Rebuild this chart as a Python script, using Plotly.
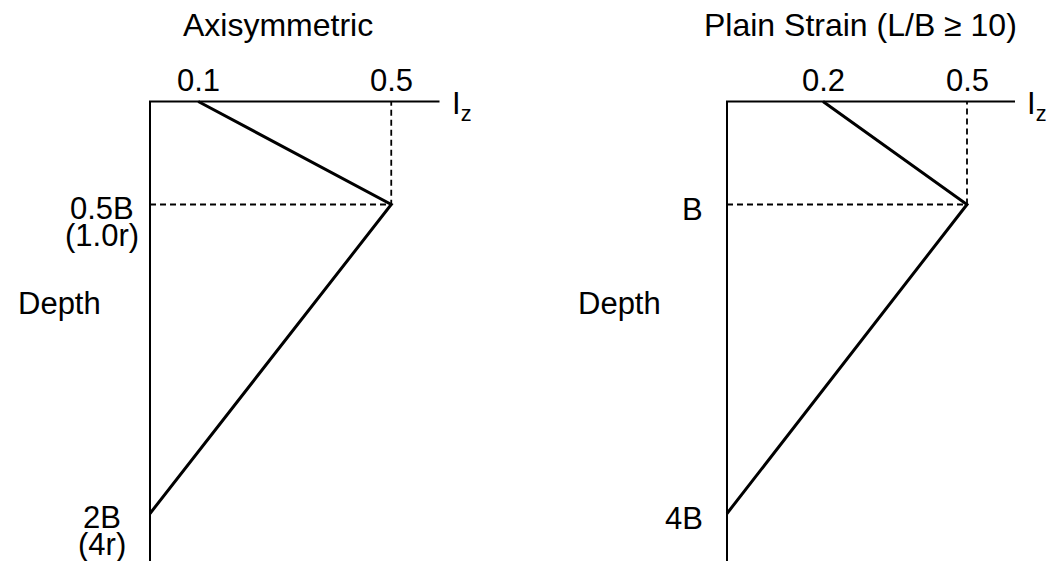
import plotly.graph_objects as go
from plotly.subplots import make_subplots

# ---- data ----
left_iz = [0.1, 0.5, 0.0]
left_depth = [0.0, 0.5, 2.0]          # depth in units of B
right_iz = [0.2, 0.5, 0.0]
right_depth = [0.0, 1.0, 4.0]

left_peak_iz = 0.5
left_peak_depth = 0.5
right_peak_iz = 0.5
right_peak_depth = 1.0

left_xticks = [0.1, 0.5]
left_xtick_labels = ["0.1", "0.5"]
right_xticks = [0.2, 0.5]
right_xtick_labels = ["0.2", "0.5"]

left_depth_ticks = [0.5, 2.0]
left_depth_labels = ["0.5B", "2B"]
left_depth_sublabels = ["(1.0r)", "(4r)"]
right_depth_ticks = [1.0, 4.0]
right_depth_labels = ["B", "4B"]

iz_axis_end = 0.6
titles = ["Axisymmetric", "Plain Strain (L/B \u2265 10)"]

# ---- layout geometry ----
W, H = 1055, 561
FONT = "Liberation Sans, Arial, Helvetica, sans-serif"
FS = 31

lx0, lsx = 150.0, 482.5
rx0, rsx = 727.0, 480.0
y0 = 101.5
lsy = 206.0   # px per B (left)
rsy = 103.0   # px per B (right)

lxr = [(0 - lx0) / lsx, (W / 2 - lx0) / lsx]
rxr = [(W / 2 - rx0) / rsx, (W - rx0) / rsx]
lyr = [(H - y0) / lsy, (0 - y0) / lsy]
ryr = [(H - y0) / rsy, (0 - y0) / rsy]

fig = make_subplots(rows=1, cols=2, horizontal_spacing=0)

black = "black"

def panel(col, iz, depth, pk_iz, pk_d, yr):
    fig.add_trace(go.Scatter(x=[0, 0, iz_axis_end], y=[yr[0], 0, 0], mode="lines",
                             line=dict(color=black, width=2), hoverinfo="skip"), row=1, col=col)
    fig.add_trace(go.Scatter(x=[0, pk_iz, pk_iz], y=[pk_d, pk_d, 0], mode="lines",
                             line=dict(color=black, width=1.8, dash="6px,4px"), hoverinfo="skip"),
                  row=1, col=col)
    fig.add_trace(go.Scatter(x=iz, y=depth, mode="lines",
                             line=dict(color=black, width=3), hoverinfo="skip"), row=1, col=col)

panel(1, left_iz, left_depth, left_peak_iz, left_peak_depth, lyr)
panel(2, right_iz, right_depth, right_peak_iz, right_peak_depth, ryr)

fig.update_xaxes(visible=False, showgrid=False, zeroline=False)
fig.update_yaxes(visible=False, showgrid=False, zeroline=False)
fig.update_layout(
    xaxis=dict(domain=[0, 0.5], range=lxr),
    xaxis2=dict(domain=[0.5, 1], range=rxr),
    yaxis=dict(domain=[0, 1], range=lyr),
    yaxis2=dict(domain=[0, 1], range=ryr),
)

font = dict(family=FONT, size=FS, color=black)
tfont = dict(family=FONT, size=32, color=black)
ann = []
for xr, yr_, ticks, labs in (("x", "y", left_xticks, left_xtick_labels),
                             ("x2", "y2", right_xticks, right_xtick_labels)):
    for t, l in zip(ticks, labs):
        ann.append(dict(x=t, y=0, xref=xr, yref=yr_, text=l, showarrow=False,
                        xanchor="center", yanchor="bottom", yshift=2, font=font))
    ann.append(dict(x=iz_axis_end, y=0, xref=xr, yref=yr_, text="I<sub>z</sub>", showarrow=False,
                    xanchor="left", yanchor="middle", xshift=10, yshift=-4, font=font))
for t, l, s in zip(left_depth_ticks, left_depth_labels, left_depth_sublabels):
    ann.append(dict(x=0, y=t, xref="x", yref="y", text=l, showarrow=False,
                    xanchor="center", yanchor="middle", xshift=-48, yshift=-4, font=font))
    ann.append(dict(x=0, y=t, xref="x", yref="y", text=s, showarrow=False,
                    xanchor="center", yanchor="middle", xshift=-48, yshift=-31, font=font))
for t, l in zip(right_depth_ticks, right_depth_labels):
    ann.append(dict(x=0, y=t, xref="x2", yref="y2", text=l, showarrow=False,
                    xanchor="right", yanchor="middle", xshift=-22, yshift=-5, font=font))
ann.append(dict(x=59 / W, y=1 - 303 / H, xref="paper", yref="paper", text="Depth",
                showarrow=False, xanchor="center", yanchor="middle", font=font))
ann.append(dict(x=619 / W, y=1 - 303 / H, xref="paper", yref="paper", text="Depth",
                showarrow=False, xanchor="center", yanchor="middle", font=font))
ann.append(dict(x=278 / W, y=1 - 25 / H, xref="paper", yref="paper", text=titles[0],
                showarrow=False, xanchor="center", yanchor="middle", font=tfont))
ann.append(dict(x=860 / W, y=1 - 25 / H, xref="paper", yref="paper", text=titles[1],
                showarrow=False, xanchor="center", yanchor="middle", font=tfont))

fig.update_layout(
    annotations=ann,
    width=W, height=H,
    margin=dict(l=0, r=0, t=0, b=0),
    paper_bgcolor="white", plot_bgcolor="white",
    showlegend=False,
)

fig.write_html("out.html", config={"displayModeBar": False},
               post_script="document.body.style.margin='0';document.body.style.overflow='hidden';")
